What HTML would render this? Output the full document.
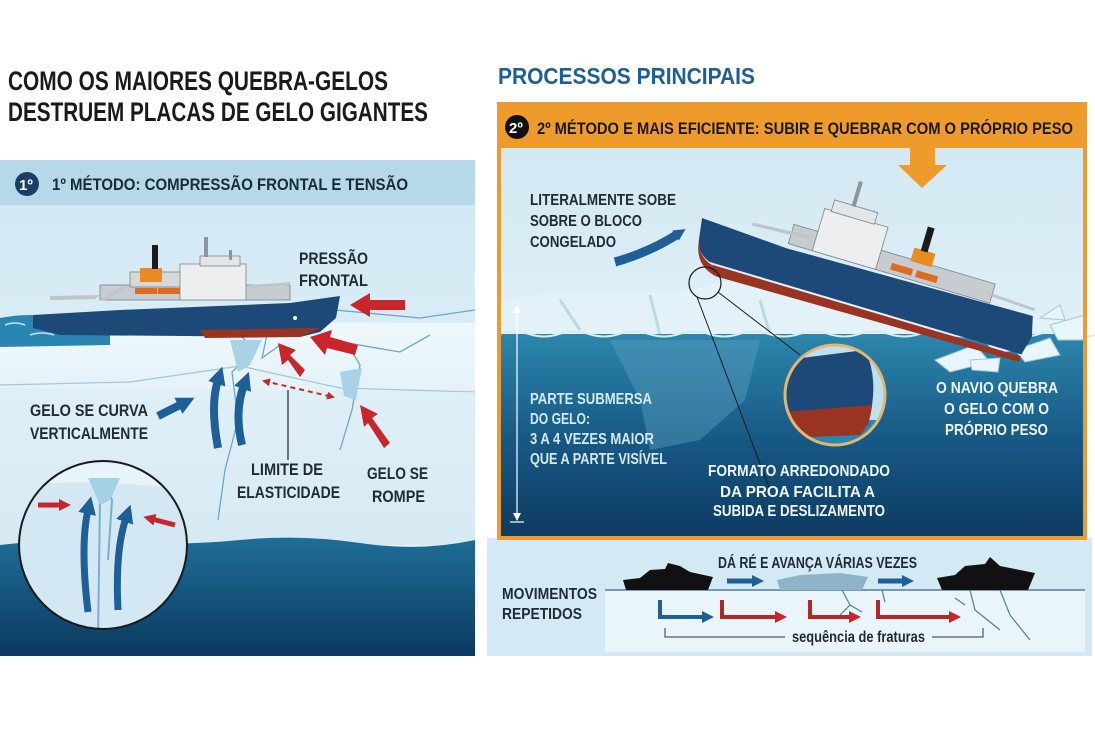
<!DOCTYPE html>
<html><head><meta charset="utf-8"><style>
html,body{margin:0;padding:0;background:#fff;}
svg{display:block;}
text{font-family:"Liberation Sans",sans-serif;font-weight:bold;}
</style></head><body>
<svg width="1095" height="730" viewBox="0 0 1095 730" xmlns="http://www.w3.org/2000/svg">
<defs>
<linearGradient id="sky" x1="0" y1="0" x2="0" y2="1"><stop offset="0" stop-color="#cfe7f2"/><stop offset="1" stop-color="#eef7fb"/></linearGradient>
<linearGradient id="ice" x1="0" y1="0" x2="0" y2="1"><stop offset="0" stop-color="#eef8fc"/><stop offset="1" stop-color="#cfe6f1"/></linearGradient>
<linearGradient id="deep" x1="0" y1="0" x2="0" y2="1"><stop offset="0" stop-color="#1e6e98"/><stop offset="1" stop-color="#0b3960"/></linearGradient>
<linearGradient id="deep2" x1="0" y1="0" x2="0" y2="1"><stop offset="0" stop-color="#2c86ad"/><stop offset="0.5" stop-color="#175a86"/><stop offset="1" stop-color="#0d3a62"/></linearGradient>
<marker id="ab" markerUnits="userSpaceOnUse" markerWidth="18" markerHeight="18" refX="4" refY="9" orient="auto"><path d="M0,0L18,9L0,18Z" fill="#1f5f98"/></marker>
<marker id="abs" markerUnits="userSpaceOnUse" markerWidth="12" markerHeight="12" refX="3" refY="6" orient="auto"><path d="M0,0L12,6L0,12Z" fill="#1f5f98"/></marker>
<marker id="ar" markerUnits="userSpaceOnUse" markerWidth="12" markerHeight="12" refX="3" refY="6" orient="auto"><path d="M0,0L12,6L0,12Z" fill="#c8262a"/></marker>
<marker id="ard" markerUnits="userSpaceOnUse" markerWidth="8" markerHeight="8" refX="6" refY="4" orient="auto-start-reverse"><path d="M0,0L8,4L0,8Z" fill="#c8262a"/></marker>
<marker id="ak" markerUnits="userSpaceOnUse" markerWidth="8" markerHeight="8" refX="7" refY="4" orient="auto-start-reverse"><path d="M0,0L8,4L0,8Z" fill="#fff"/></marker>
<clipPath id="cl1"><rect x="0" y="160" width="475" height="496"/></clipPath>
<clipPath id="circ"><circle cx="103" cy="545" r="84"/></clipPath>
<clipPath id="circ2"><circle cx="835" cy="395" r="50"/></clipPath>
</defs>

<text x="8" y="90" font-size="27" fill="#1a1a1a" textLength="380" lengthAdjust="spacingAndGlyphs">COMO OS MAIORES QUEBRA-GELOS</text>
<text x="8" y="121" font-size="27" fill="#1a1a1a" textLength="420" lengthAdjust="spacingAndGlyphs">DESTRUEM PLACAS DE GELO GIGANTES</text>
<text x="498" y="84" font-size="23" fill="#1d5f95" textLength="257" lengthAdjust="spacingAndGlyphs">PROCESSOS PRINCIPAIS</text>

<g clip-path="url(#cl1)">
<rect x="0" y="160" width="475" height="496" fill="url(#sky)"/>
<rect x="0" y="160" width="475" height="45" fill="#b6d8e9"/>
<path d="M0,330 L120,325 L260,322 L475,323 L475,545 L0,545 Z" fill="url(#ice)"/>
<path d="M0,385 L130,382 L240,366 L340,388 L475,392" fill="none" stroke="#9fc6d9" stroke-width="1.2"/>
<path d="M0,388 L475,392 L475,545 L0,545Z" fill="#dcedf5" opacity="0.6"/>
<path d="M0,545 Q60,538 120,542 T240,540 T360,543 T475,540 L475,656 L0,656Z" fill="url(#deep)"/>
<path d="M0,318 Q30,312 60,318 T110,320 L110,345 L0,347Z" fill="#2a86b0"/>
<path d="M5,325 q10,-4 20,0 M30,335 q12,-4 24,0 M60,326 q10,-3 20,0" stroke="#bfe3f1" stroke-width="1.5" fill="none"/>
<path d="M240,335 L255,350 L232,372 L238,420 L225,470 L218,520 M268,330 L262,358 L280,345 M348,345 L360,365 L352,410 L340,450 M335,310 L420,318 L475,310 M330,340 L400,352 L430,335" fill="none" stroke="#6fa6c4" stroke-width="1.3"/>
<path d="M230,340 L262,340 L250,365 L238,372 Z M340,372 L362,368 L356,400 L344,396Z" fill="#a9d2e6"/>
<rect x="100" y="285" width="190" height="15" fill="#c7ccd0" stroke="#7b8288" stroke-width="0.8"/>
<rect x="130" y="272" width="60" height="15" fill="#d5d9dc" stroke="#7b8288" stroke-width="0.8"/>
<rect x="180" y="264" width="66" height="36" fill="#eceeef" stroke="#7b8288" stroke-width="0.8"/>
<rect x="200" y="256" width="40" height="10" fill="#e3e6e8" stroke="#7b8288" stroke-width="0.8"/>
<rect x="204" y="237" width="4" height="20" fill="#8d959b"/>
<rect x="229" y="250" width="3" height="10" fill="#8d959b"/>
<rect x="140" y="268" width="22" height="14" fill="#ea8b22"/>
<rect x="152" y="245" width="6" height="24" fill="#1b1b1b"/>
<rect x="135" y="288" width="22" height="6" fill="#e06a1f"/><rect x="158" y="288" width="22" height="6" fill="#e06a1f"/>
<path d="M50,300 L95,299 L100,295 L50,296Z M100,300 L125,285 L128,287 L104,301Z M250,285 L290,282 L290,285 L250,288Z" fill="#bfc5ca"/>
<path d="M33,315 L120,310 L290,303 L340,296 L336,318 L320,332 L300,337 L60,335 L33,328 Z" fill="#1d4979"/>
<path d="M200,330 L320,328 L300,337 L205,338Z" fill="#9a3322"/>
<circle cx="295" cy="318" r="2" fill="#fff"/>
<g fill="#c8262a">
<path d="M405,300 L370,300 L370,293 L350,305 L370,317 L370,310 L405,310Z"/>
<path d="M358,345 L330,337 L332,330 L310,337 L325,355 L327,348 L355,355Z"/>
<path d="M305,370 L290,355 L296,350 L278,343 L282,365 L288,360 L300,377Z"/>
<path d="M390,443 L372,418 L378,414 L360,405 L364,427 L368,423 L384,448Z"/>
</g>
<path d="M264,381 L333,397" stroke="#c8262a" stroke-width="2" stroke-dasharray="5,4" fill="none" marker-start="url(#ard)" marker-end="url(#ard)"/>
<line x1="288" y1="390" x2="288" y2="460" stroke="#333" stroke-width="1.3"/>
<g fill="none" stroke="#1f5f98" stroke-width="8">
<path d="M158,416 L182,404" marker-end="url(#ab)"/>
<path d="M218,448 Q210,405 218,380" marker-end="url(#ab)"/>
<path d="M242,445 Q234,412 244,385" marker-end="url(#ab)"/>
</g>
<circle cx="103" cy="545" r="84" fill="#e8f4fa"/>
<g clip-path="url(#circ)">
<path d="M19,485 Q100,478 190,490 L190,640 L19,640Z" fill="#d3e8f2"/>
<path d="M95,480 L100,500 L98,640 M104,480 L112,500 L108,560" stroke="#7aaecb" stroke-width="2" fill="none"/>
<path d="M88,478 L120,478 L110,500 L100,505Z" fill="#a6d0e4"/>
<g fill="none" stroke="#1f5f98" stroke-width="7">
<path d="M88,612 Q80,545 88,510" marker-end="url(#ab)"/>
<path d="M118,610 Q115,550 126,518" marker-end="url(#ab)"/>
</g>
<path d="M38,505 L62,505" stroke="#c8262a" stroke-width="5" marker-end="url(#ar)"/>
<path d="M175,525 L152,519" stroke="#c8262a" stroke-width="5" marker-end="url(#ar)"/>
</g>
<circle cx="103" cy="545" r="84" fill="none" stroke="#1a1a1a" stroke-width="2"/>
</g>
<circle cx="27" cy="184" r="12" fill="#1b3e66"/>
<text x="19" y="190" font-size="15" fill="#fff">1º</text>
<text x="52" y="190" font-size="17" fill="#1a2a3a" textLength="356" lengthAdjust="spacingAndGlyphs">1º MÉTODO:  COMPRESSÃO FRONTAL E TENSÃO</text>
<g font-size="17" fill="#1f2a35">
<text x="299" y="264" textLength="69" lengthAdjust="spacingAndGlyphs">PRESSÃO</text>
<text x="299" y="286" textLength="69" lengthAdjust="spacingAndGlyphs">FRONTAL</text>
<text x="30" y="416" textLength="118" lengthAdjust="spacingAndGlyphs">GELO SE CURVA</text>
<text x="30" y="439" textLength="118" lengthAdjust="spacingAndGlyphs">VERTICALMENTE</text>
<text x="251" y="475" textLength="72" lengthAdjust="spacingAndGlyphs">LIMITE DE</text>
<text x="237" y="498" textLength="103" lengthAdjust="spacingAndGlyphs">ELASTICIDADE</text>
<text x="367" y="479" textLength="61" lengthAdjust="spacingAndGlyphs">GELO SE</text>
<text x="372" y="502" textLength="53" lengthAdjust="spacingAndGlyphs">ROMPE</text>
</g>

<rect x="487" y="538" width="605" height="118" fill="#d3e9f3"/>
<rect x="605" y="590" width="480" height="62" fill="#eaf5fa"/>
<line x1="605" y1="590" x2="1085" y2="590" stroke="#4f7f9e" stroke-width="1.5"/>
<rect x="499" y="104" width="586" height="436" fill="url(#sky)"/>
<path d="M499,300 Q560,290 620,292 T720,282 L760,275 L1000,320 L1085,320 L1085,340 L499,340Z" fill="#e3f1f8"/>
<path d="M560,300 L580,330 M650,295 L660,335 M760,300 L770,335" stroke="#bcd9e7" stroke-width="3"/>
<rect x="499" y="334" width="586" height="204" fill="url(#deep2)"/>
<path d="M499,334 q15,-5 30,0 t30,0 t30,0 t30,0 t30,0 t30,0 t30,0 t30,0 t30,0 t30,0 t30,0 t30,0 t30,0 t30,0 t30,0 t30,0 t30,0 t30,0 t30,0 t30,0" stroke="#d4edf7" stroke-width="2" fill="none"/>
<path d="M610,340 L760,340 L745,400 L700,440 L650,450 L640,400Z" fill="#5b9dbf" opacity="0.45"/>
<g fill="#e8f5fb" stroke="#9fc8dc" stroke-width="1">
<path d="M935,360 L975,345 L990,362 L950,372Z"/><path d="M985,340 L1010,332 L1020,348 L995,355Z"/><path d="M1015,350 L1050,338 L1060,355 L1025,362Z"/><path d="M1040,318 L1060,305 L1065,320Z"/><path d="M1050,325 L1085,315 L1085,340 L1058,340Z"/><path d="M970,360 L1000,358 L998,372 L972,370Z"/>
</g>
<g transform="translate(702,218) rotate(16.5)">
<rect x="90" y="-20" width="210" height="20" fill="#c7ccd0" stroke="#7b8288" stroke-width="0.8"/>
<rect x="115" y="-44" width="66" height="44" fill="#eceeef" stroke="#7b8288" stroke-width="0.8"/>
<rect x="122" y="-55" width="45" height="12" fill="#e3e6e8" stroke="#7b8288" stroke-width="0.8"/>
<rect x="140" y="-80" width="4" height="26" fill="#8d959b"/>
<rect x="212" y="-32" width="22" height="14" fill="#ea8b22"/>
<rect x="219" y="-56" width="7" height="25" fill="#1b1b1b"/>
<rect x="195" y="-11" width="22" height="7" fill="#e06a1f"/><rect x="221" y="-11" width="22" height="7" fill="#e06a1f"/>
<path d="M50,-10 L110,-14 L110,-10 L50,-7Z M300,-10 L345,-8 L345,-5 L300,-7Z" fill="#bfc5ca"/>
<path d="M0,0 L90,5 L345,0 L350,20 L345,40 L20,40 Q5,35 3,20Z" fill="#1d4979"/>
<path d="M3,22 Q8,38 22,42 L345,42 L345,48 L30,52 Q10,48 5,30Z" fill="#9a3322"/>
</g>
<circle cx="835" cy="395" r="50" fill="#bfe0ee"/>
<g clip-path="url(#circ2)">
<rect x="780" y="420" width="110" height="30" fill="#2a86b0"/>
<path d="M785,360 L865,350 Q880,380 868,425 L785,430Z" fill="#1d4979"/>
<path d="M785,412 L872,405 Q870,425 860,435 L785,438Z" fill="#9a3322"/>
</g>
<circle cx="835" cy="395" r="50" fill="none" stroke="#e3b770" stroke-width="3"/>
<circle cx="705" cy="283" r="16" fill="none" stroke="#1a1a1a" stroke-width="1.2"/>
<path d="M697,297 L770,490 M718,292 L800,355" stroke="#1a1a1a" stroke-width="1"/>
<line x1="517" y1="306" x2="517" y2="520" stroke="#fff" stroke-width="1.2" marker-start="url(#ak)" marker-end="url(#ak)"/>
<line x1="510" y1="522" x2="524" y2="522" stroke="#fff" stroke-width="1.2"/>
<path d="M615,262 Q650,252 678,234" stroke="#1f5f98" stroke-width="9" fill="none" marker-end="url(#abs)"/>
<rect x="499" y="104" width="586" height="434" fill="none" stroke="#ef9b2c" stroke-width="4"/>
<rect x="497" y="102" width="590" height="46" fill="#ef9b2c"/>
<path d="M910,148 L935,148 L935,165 L947,165 L922,188 L898,165 L910,165Z" fill="#ef9b2c"/>
<circle cx="517" cy="127" r="12" fill="#111"/>
<text x="509" y="133" font-size="15" fill="#fff">2º</text>
<text x="537" y="134" font-size="17" fill="#1a1a1a" textLength="536" lengthAdjust="spacingAndGlyphs">2º MÉTODO E MAIS EFICIENTE: SUBIR E QUEBRAR COM O PRÓPRIO PESO</text>
<g font-size="16">
<text x="530" y="205" fill="#1f2a35" textLength="146" lengthAdjust="spacingAndGlyphs">LITERALMENTE SOBE</text>
<text x="530" y="226" fill="#1f2a35" textLength="112" lengthAdjust="spacingAndGlyphs">SOBRE O BLOCO</text>
<text x="530" y="247" fill="#1f2a35" textLength="86" lengthAdjust="spacingAndGlyphs">CONGELADO</text>
<text x="530" y="404" fill="#d3e9f5" font-weight="normal" textLength="122" lengthAdjust="spacingAndGlyphs">PARTE SUBMERSA</text>
<text x="530" y="424" fill="#d3e9f5" font-weight="normal" textLength="60" lengthAdjust="spacingAndGlyphs">DO GELO:</text>
<text x="530" y="444" fill="#d3e9f5" font-weight="normal" textLength="124" lengthAdjust="spacingAndGlyphs">3 A 4 VEZES MAIOR</text>
<text x="530" y="464" fill="#d3e9f5" font-weight="normal" textLength="137" lengthAdjust="spacingAndGlyphs">QUE A PARTE VISÍVEL</text>
<text x="936" y="393" fill="#eef6fb" textLength="122" lengthAdjust="spacingAndGlyphs">O NAVIO QUEBRA</text>
<text x="944" y="414" fill="#eef6fb" textLength="105" lengthAdjust="spacingAndGlyphs">O GELO COM O</text>
<text x="945" y="435" fill="#eef6fb" textLength="103" lengthAdjust="spacingAndGlyphs">PRÓPRIO PESO</text>
<text x="708" y="476" fill="#eef6fb" textLength="182" lengthAdjust="spacingAndGlyphs">FORMATO ARREDONDADO</text>
<text x="720" y="497" fill="#eef6fb" textLength="155" lengthAdjust="spacingAndGlyphs">DA PROA FACILITA A</text>
<text x="713" y="516" fill="#eef6fb" textLength="172" lengthAdjust="spacingAndGlyphs">SUBIDA E DESLIZAMENTO</text>
<text x="718" y="568" fill="#1f2a35" font-weight="normal" textLength="199" lengthAdjust="spacingAndGlyphs">DÁ RÉ E AVANÇA VÁRIAS VEZES</text>
<text x="502" y="599" fill="#1f2a35" textLength="95" lengthAdjust="spacingAndGlyphs">MOVIMENTOS</text>
<text x="502" y="619" fill="#1f2a35" textLength="80" lengthAdjust="spacingAndGlyphs">REPETIDOS</text>
<text x="792" y="642" fill="#1f2a35" font-weight="normal" textLength="133" lengthAdjust="spacingAndGlyphs">sequência de fraturas</text>
</g>
<path d="M623,580 L640,578 L650,570 L665,569 L668,563 L680,566 L690,572 L713,577 L708,590 L626,590Z" fill="#111"/>
<path d="M777,580 L800,575 L840,573 L868,577 L862,590 L780,590Z" fill="#8fb4c8"/>
<path d="M937,578 L955,575 L965,566 L985,564 L990,557 L1000,566 L1035,573 L1028,590 L942,590Z" fill="#111"/>
<path d="M727,581 L755,581" stroke="#1f5f98" stroke-width="5" marker-end="url(#abs)"/>
<path d="M878,581 L905,581" stroke="#1f5f98" stroke-width="5" marker-end="url(#abs)"/>
<path d="M842,590 L850,605 L840,615 M850,605 L862,612 M882,590 L885,602 M970,590 L975,610 L1000,630 M1000,590 L1010,615 L1030,640 M955,598 L965,605" stroke="#4f7f9e" stroke-width="1.2" fill="none"/>
<g fill="none" stroke-width="4">
<path d="M660,600 L660,617 L705,617" stroke="#1f5f98" marker-end="url(#abs)"/>
<path d="M722,600 L722,617 L778,617" stroke="#b3262a" marker-end="url(#ar)"/>
<path d="M810,600 L810,617 L852,617" stroke="#b3262a" marker-end="url(#ar)"/>
<path d="M878,600 L878,617 L952,617" stroke="#b3262a" marker-end="url(#ar)"/>
</g>
<path d="M665,628 L665,637 L785,637 M932,637 L983,637 L983,628" stroke="#333" stroke-width="1" fill="none"/>
</svg>
</body></html>
